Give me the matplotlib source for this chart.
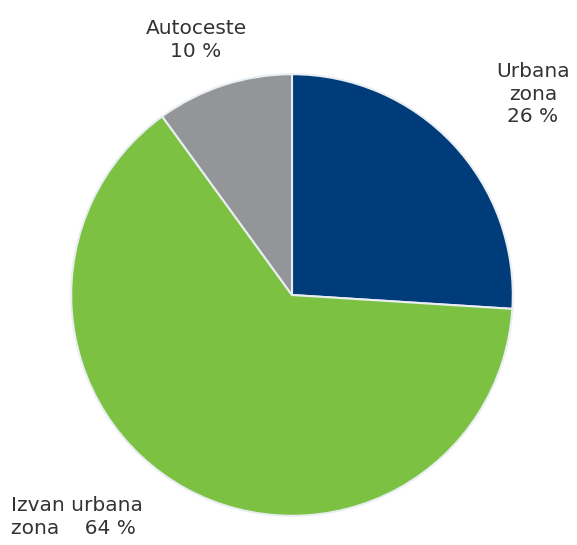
import matplotlib
matplotlib.use("Agg")
import matplotlib.pyplot as plt

# shares of the pie, clockwise from the top
labels = ['Urbana zona', 'Izvan urbana zona', 'Autoceste']
shares = [26, 64, 10]
colors = ['#003b7a', '#7cc142', '#939598']

W, H = 577, 545
fig = plt.figure(figsize=(W / 100, H / 100), dpi=100)

# pie centre and radius in pixels
cx, cy, r = 292, 295, 223
ax = fig.add_axes([(cx - r) / W, (H - cy - r) / H, 2 * r / W, 2 * r / H])
ax.pie(shares, colors=colors, startangle=90, counterclock=False, radius=1,
       wedgeprops=dict(edgecolor='#e8eef2', linewidth=1.5))
ax.set_xlim(-1.01, 1.01)
ax.set_ylim(-1.01, 1.01)
ax.set_aspect('equal')
ax.axis('off')

txt = dict(color='#333333', fontsize=14.5, family='DejaVu Sans', linespacing=1.25)

def put(x, y, s, **kw):
    fig.text(x / W, 1 - y / H, s, **txt, **kw)

put(196, 40, 'Autoceste\n%d %%' % shares[2], ha='center', va='center')
put(533, 94, 'Urbana\nzona\n%d %%' % shares[0], ha='center', va='center')
put(11, 517, 'Izvan urbana\nzona    %d %%' % shares[1], ha='left', va='center')

fig.savefig('out.png', dpi=100)
